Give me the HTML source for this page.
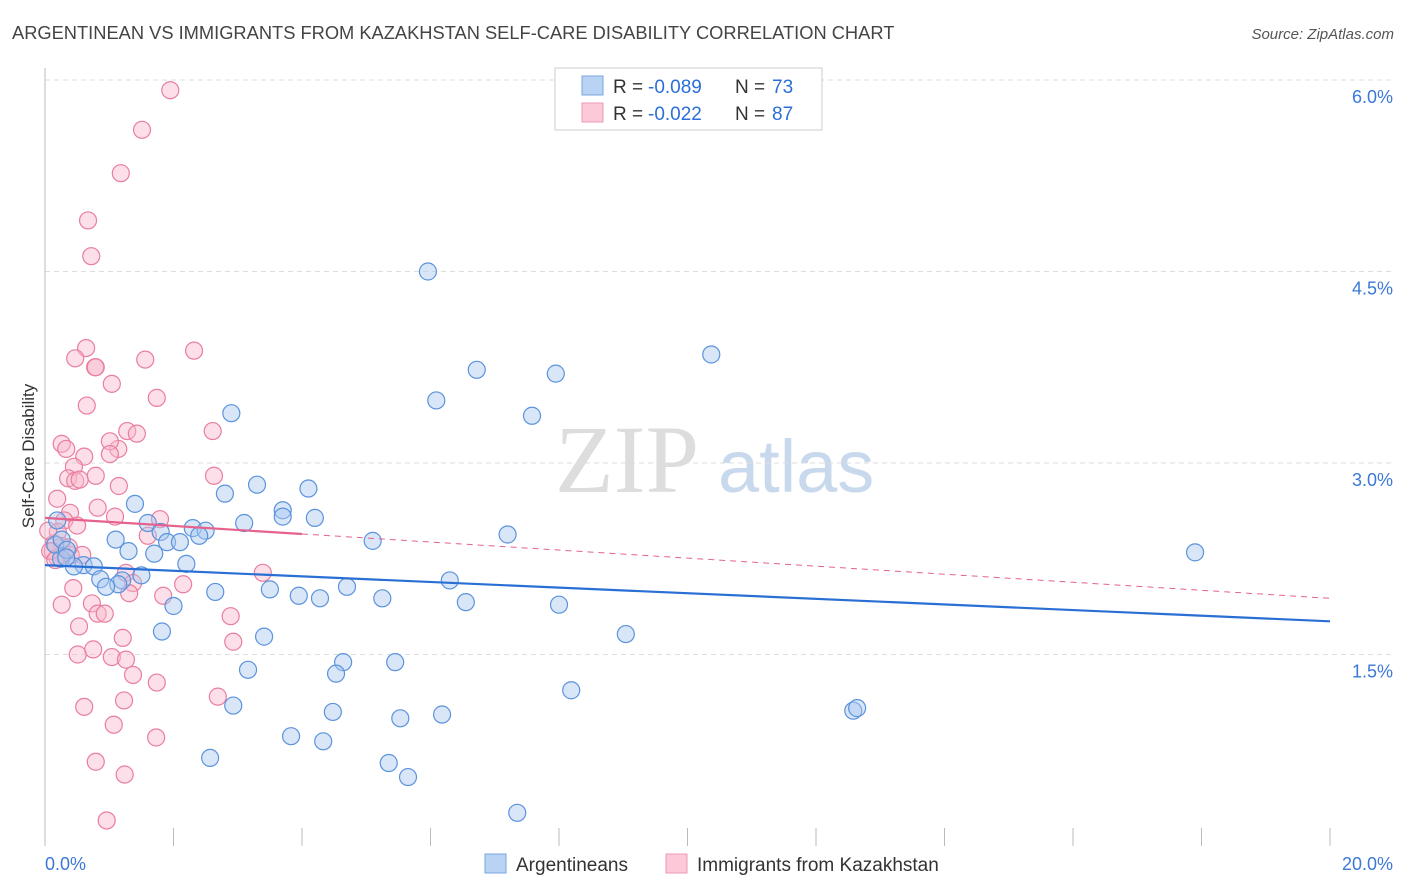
<!DOCTYPE html>
<html><head><meta charset="utf-8"><style>
body{margin:0;background:#fff;font-family:"Liberation Sans",sans-serif}
</style></head><body>
<svg id="chart" width="1406" height="892" xmlns="http://www.w3.org/2000/svg" style="display:block">
<text x="12" y="39" font-size="18.3" fill="#444">ARGENTINEAN VS IMMIGRANTS FROM KAZAKHSTAN SELF-CARE DISABILITY CORRELATION CHART</text>
<text x="1394" y="39" font-size="15" fill="#555" text-anchor="end" font-style="italic">Source: ZipAtlas.com</text>
<text x="555" y="492" font-size="96" fill="#ddd" font-family="Liberation Serif">ZIP</text>
<text x="718" y="492" font-size="74" fill="#c8d9ee">atlas</text>
<text transform="translate(34,456) rotate(-90)" text-anchor="middle" font-size="17" fill="#333">Self-Care Disability</text>
<g id="grid"></g><g id="pts"></g><g id="lines"></g>
<g>
<rect x="555" y="68" width="267" height="62" fill="#fff" stroke="#ccc"/>
<rect x="582" y="76" width="21" height="19" fill="#b9d3f5" stroke="#7aa6e0"/>
<rect x="582" y="103" width="21" height="19" fill="#fbc9d7" stroke="#ee9ab2"/>
<text x="613" y="93" font-size="19" fill="#333">R =</text>
<text x="648" y="93" font-size="19" fill="#2b6fd6">-0.089</text>
<text x="735" y="93" font-size="19" fill="#333">N =</text>
<text x="772" y="93" font-size="19" fill="#2b6fd6">73</text>
<text x="613" y="120" font-size="19" fill="#333">R =</text>
<text x="648" y="120" font-size="19" fill="#2b6fd6">-0.022</text>
<text x="735" y="120" font-size="19" fill="#333">N =</text>
<text x="772" y="120" font-size="19" fill="#2b6fd6">87</text>
</g>
<g>
<rect x="485" y="854" width="21" height="19" fill="#b9d3f5" stroke="#7aa6e0"/>
<text x="516" y="871" font-size="19" fill="#333">Argentineans</text>
<rect x="666" y="854" width="21" height="19" fill="#fbc9d7" stroke="#ee9ab2"/>
<text x="697" y="871" font-size="19" fill="#333">Immigrants from Kazakhstan</text>
</g>
<text x="45" y="870" font-size="18" fill="#3b78d8">0.0%</text>
<text x="1393" y="870" font-size="18" fill="#3b78d8" text-anchor="end">20.0%</text>
</svg>
<script>
const yTicks=[1.5,3.0,4.5,6.0];
const xTicks=[0,2,4,6,8,10,12,14,16,18,20];
const blueX=[5.96,10.37,6.72,7.95,6.09,7.58,2.9,1.4,2.8,3.3,4.1,3.7,3.7,4.2,3.1,1.6,2.3,2.5,2.4,1.8,7.2,5.1,1.9,2.1,1.1,1.3,1.7,0.6,0.25,0.45,0.76,2.2,17.9,6.3,4.7,1.5,1.2,1.14,0.86,0.95,3.5,2.65,3.95,4.28,5.25,6.55,8.0,2.0,1.82,3.41,9.04,4.64,5.45,4.53,3.16,8.19,2.93,4.48,6.18,5.53,12.58,12.64,3.83,4.33,2.57,5.35,5.65,7.35,0.19,0.16,0.26,0.34,0.33];
const blueY=[4.5,3.85,3.73,3.7,3.49,3.37,3.39,2.68,2.76,2.83,2.8,2.63,2.58,2.57,2.53,2.53,2.49,2.47,2.43,2.46,2.44,2.39,2.38,2.38,2.4,2.31,2.29,2.2,2.25,2.19,2.19,2.21,2.3,2.08,2.03,2.12,2.08,2.05,2.09,2.03,2.01,1.99,1.96,1.94,1.94,1.91,1.89,1.88,1.68,1.64,1.66,1.44,1.44,1.35,1.38,1.22,1.10,1.05,1.03,1.00,1.06,1.08,0.86,0.82,0.69,0.65,0.54,0.26,2.55,2.36,2.4,2.32,2.26];
const pinkX=[1.95,1.51,1.18,0.67,0.72,2.32,0.64,0.47,0.78,0.79,1.56,1.04,1.74,0.65,0.26,0.33,1.14,1.28,1.43,1.01,0.61,1.01,0.45,0.36,0.47,0.54,0.79,1.15,2.63,2.61,0.19,0.82,0.39,0.3,1.09,0.5,1.79,1.6,0.2,0.26,0.14,0.26,0.12,0.4,0.58,0.19,0.37,3.39,1.26,1.37,1.31,2.15,1.84,0.44,0.26,0.73,0.82,0.93,0.53,2.89,0.51,0.75,1.04,1.21,1.26,1.37,1.74,2.93,2.69,1.23,0.61,1.07,1.73,0.79,1.24,0.96,0.05,0.08,0.16];
const pinkY=[5.92,5.61,5.27,4.9,4.62,3.88,3.9,3.82,3.75,3.75,3.81,3.62,3.51,3.45,3.15,3.11,3.11,3.25,3.23,3.17,3.05,3.07,2.97,2.88,2.86,2.87,2.9,2.82,2.9,3.25,2.72,2.65,2.61,2.55,2.58,2.51,2.56,2.43,2.46,2.35,2.37,2.28,2.31,2.28,2.28,2.26,2.34,2.14,2.14,2.06,1.98,2.05,1.96,2.02,1.89,1.9,1.82,1.82,1.72,1.8,1.5,1.54,1.48,1.63,1.46,1.34,1.28,1.6,1.17,1.14,1.09,0.95,0.85,0.66,0.56,0.2,2.47,2.31,2.24];
const blueTrend=[2.2,1.76];
const pinkTrend=[2.57,1.94];
const NS="http://www.w3.org/2000/svg";
const X0=45,X1=1330,Y0=846,PPU=191.5/1.5;
function sx(v){return X0+(v/20)*(X1-X0);}
function sy(v){return Y0-v*PPU;}
function mk(tag,a,p){const e=document.createElementNS(NS,tag);for(const k in a)e.setAttribute(k,a[k]);p.appendChild(e);return e;}
const grid=document.getElementById('grid');
yTicks.forEach(t=>{
 const l=mk('line',{x1:45,x2:1394,y1:sy(t),y2:sy(t),stroke:'#ddd','stroke-dasharray':'5,4'},grid);
 
 
 const tx=mk('text',{x:1393,y:sy(t)+23,'font-size':18,fill:'#3b78d8','text-anchor':'end'},grid);
 tx.textContent=t.toFixed(1)+'%';
 
 
});
const ax=mk('line',{x1:45,x2:45,y1:68,y2:846,stroke:'#bbb'},grid);


xTicks.forEach(t=>{
 const l=mk('line',{x1:sx(t),x2:sx(t),y1:828,y2:846,stroke:'#bbb'},grid);
 
 
});
const pts=document.getElementById('pts');
function dots(xs,ys,fill,stroke,name){xs.forEach((x,i)=>{
 const c=mk('circle',{cx:sx(x),cy:sy(ys[i]),r:8.5,fill:fill,'fill-opacity':0.45,stroke:stroke,'stroke-width':1.2},pts);
 
 
});}
dots(pinkX,pinkY,'#f8b8cb','#e97e9f','kazakhstan-point');
dots(blueX,blueY,'#a9c8f0','#5b93dd','argentinean-point');
const lines=document.getElementById('lines');
const bl=mk('line',{x1:sx(0),y1:sy(blueTrend[0]),x2:sx(20),y2:sy(blueTrend[1]),stroke:'#2a6fd4','stroke-width':2.2},lines);


const pf=v=>pinkTrend[0]+(pinkTrend[1]-pinkTrend[0])*v/20;
const pl=mk('line',{x1:sx(0),y1:sy(pf(0)),x2:sx(4),y2:sy(pf(4)),stroke:'#e5628c','stroke-width':2.2},lines);


const pd=mk('line',{x1:sx(4),y1:sy(pf(4)),x2:sx(20),y2:sy(pf(20)),stroke:'#e5628c','stroke-width':1,'stroke-dasharray':'6,5'},lines);


</script>
</body></html>
